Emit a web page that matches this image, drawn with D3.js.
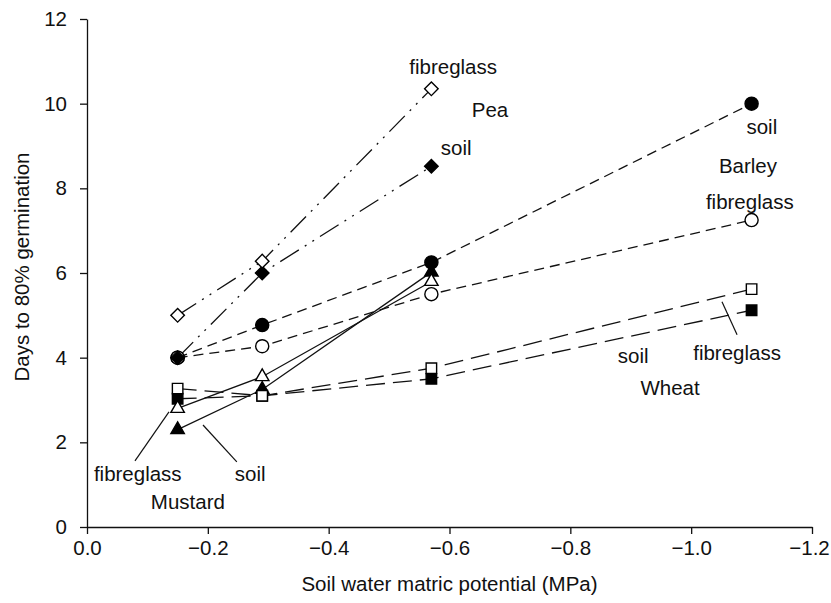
<!DOCTYPE html>
<html>
<head>
<meta charset="utf-8">
<script src="https://cdn.jsdelivr.net/npm/d3@7"></script>
<style>
  body { margin: 0; background: #fff; }
  svg { display: block; font-family: "Liberation Sans", Arial, Helvetica, sans-serif; }
</style>
</head>
<body>
<div id="chart"></div>
<script>
// 土壤水势与发芽天数
const potentials = [-0.15, -0.29, -0.57, -1.1];

const peaFibreglass = [5.0, 6.28, 10.35];
const peaSoil = [4.0, 6.0, 8.52];
const barleySoil = [4.0, 4.77, 6.25, 10.0];
const barleyFibreglass = [4.0, 4.27, 5.5, 7.25];
const wheatFibreglass = [3.27, 3.1, 3.75, 5.62];
const wheatSoil = [3.03, 3.1, 3.5, 5.12];
const mustardFibreglass = [2.8, 3.55, 5.8];
const mustardSoil = [2.3, 3.25, 6.02];

const xTicks = [0, -0.2, -0.4, -0.6, -0.8, -1.0, -1.2];
const yTicks = [0, 2, 4, 6, 8, 10, 12];

// 文字标注 [文本, x, y]
const labels = [
  ['fibreglass', -0.606, 10.87],
  ['Pea', -0.667, 9.85],
  ['soil', -0.611, 8.95],
  ['soil', -1.117, 9.45],
  ['Barley', -1.094, 8.53],
  ['fibreglass', -1.097, 7.68],
  ['soil', -0.904, 4.04],
  ['fibreglass', -1.076, 4.11],
  ['Wheat', -0.965, 3.28],
  ['fibreglass', -0.084, 1.25],
  ['soil', -0.27, 1.25],
  ['Mustard', -0.167, 0.59]
];

// 引线 [x1, y1, x2, y2]
const leaders = [
  [-0.0794, 1.56, -0.1357, 2.72],
  [-0.248, 1.54, -0.192, 2.41],
  [-1.076, 4.54, -1.051, 5.32]
];

const width = 831, height = 603;
const margin = { left: 87, right: 19, top: 19, bottom: 76 };
const fontSize = 20.5;

const svg = d3.select('#chart').append('svg')
  .attr('width', width)
  .attr('height', height);

const x = d3.scaleLinear().domain([0, -1.2]).range([margin.left, width - margin.right]);
const y = d3.scaleLinear().domain([0, 12]).range([height - margin.bottom, margin.top]);

// 坐标轴
const xAxis = svg.append('g')
  .attr('transform', `translate(0,${y(0)})`)
  .call(d3.axisBottom(x).tickValues(xTicks).tickFormat(d3.format('.1f'))
    .tickSize(7).tickSizeOuter(0).tickPadding(6));

const yAxis = svg.append('g')
  .attr('transform', `translate(${x(0)},0)`)
  .call(d3.axisLeft(y).tickValues(yTicks).tickSize(7).tickSizeOuter(0).tickPadding(13));

[xAxis, yAxis].forEach(g => {
  g.selectAll('text').attr('font-size', fontSize).attr('font-family', null).attr('fill', '#111');
  g.selectAll('line, path').attr('stroke', '#111').attr('stroke-width', 1.3);
});

// 最右边的刻度文字贴着边缘，稍微左移
xAxis.selectAll('.tick text')
  .filter(d => d === -1.2)
  .attr('dx', -3);

svg.append('text')
  .attr('x', (x(0) + x(-1.2)) / 2)
  .attr('y', 591)
  .attr('text-anchor', 'middle')
  .attr('font-size', fontSize)
  .attr('fill', '#111')
  .text('Soil water matric potential (MPa)');

svg.append('text')
  .attr('transform', `translate(22,${(y(0) + y(12)) / 2 - 6}) rotate(-90)`)
  .attr('text-anchor', 'middle')
  .attr('dy', '0.35em')
  .attr('font-size', fontSize)
  .attr('fill', '#111')
  .text('Days to 80% germination');

// 系列
const series = [
  { values: barleySoil, dash: '10,6', shape: 'circle', fill: '#000' },
  { values: barleyFibreglass, dash: '10,6', shape: 'circle', fill: '#fff' },
  { values: peaSoil, dash: '22,7,2,7,2,7', shape: 'diamond', fill: '#000' },
  { values: peaFibreglass, dash: '22,7,2,7,2,7', shape: 'diamond', fill: '#fff' },
  { values: mustardSoil, dash: null, shape: 'triangle', fill: '#000' },
  { values: wheatSoil, dash: '19,8', shape: 'square', fill: '#000' },
  { values: wheatFibreglass, dash: '19,8', shape: 'square', fill: '#fff' },
  { values: mustardFibreglass, dash: null, shape: 'triangle', fill: '#fff' }
];

const line = d3.line()
  .x((d, i) => x(potentials[i]))
  .y(d => y(d));

svg.append('g').selectAll('path')
  .data(series)
  .join('path')
  .attr('d', s => line(s.values))
  .attr('fill', 'none')
  .attr('stroke', '#111')
  .attr('stroke-width', 1.3)
  .attr('stroke-dasharray', s => s.dash);

const symbols = {
  circle: { type: d3.symbolCircle, size: 135, rotate: 0 },
  square: { type: d3.symbolSquare, size: 110, rotate: 0 },
  diamond: { type: d3.symbolSquare, size: 92, rotate: 45 },
  triangle: { type: d3.symbolTriangle, size: 78, rotate: 0 }
};

series.forEach(s => {
  const sym = symbols[s.shape];
  svg.append('g').selectAll('path')
    .data(s.values)
    .join('path')
    .attr('d', d3.symbol().type(sym.type).size(sym.size))
    .attr('transform', (d, i) => `translate(${x(potentials[i])},${y(d)}) rotate(${sym.rotate})`)
    .attr('fill', s.fill)
    .attr('stroke', '#000')
    .attr('stroke-width', 1.4);
});

// 引线与标注
svg.append('g').selectAll('line')
  .data(leaders)
  .join('line')
  .attr('x1', d => x(d[0]))
  .attr('y1', d => y(d[1]))
  .attr('x2', d => x(d[2]))
  .attr('y2', d => y(d[3]))
  .attr('stroke', '#111')
  .attr('stroke-width', 1.2);

svg.append('g').selectAll('text')
  .data(labels)
  .join('text')
  .attr('x', d => x(d[1]))
  .attr('y', d => y(d[2]))
  .attr('dy', '0.35em')
  .attr('text-anchor', 'middle')
  .attr('font-size', fontSize)
  .attr('fill', '#111')
  .text(d => d[0]);
</script>
</body>
</html>
